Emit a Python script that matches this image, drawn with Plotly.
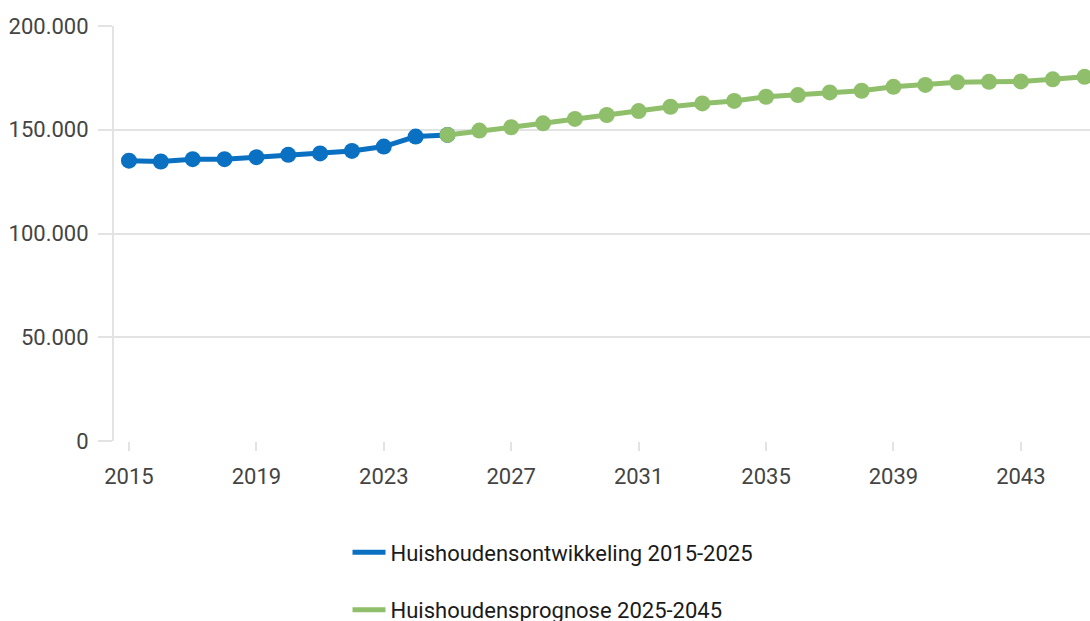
import plotly.graph_objects as go

years_hist = list(range(2015, 2026))
hist_values = [135100, 134700, 135800, 135800, 136800, 137900, 138600, 139800, 141900, 146700, 147500]

years_prog = list(range(2025, 2046))
prog_values = [147500, 149600, 151200, 153100, 155200, 157100, 159000, 161100, 162700, 163900,
               165900, 166700, 168000, 168800, 170700, 171600, 172900, 173100, 173300, 174300, 175500]

name_hist = "Huishoudensontwikkeling 2015-2025"
name_prog = "Huishoudensprognose 2025-2045"
x_ticks = list(range(2015, 2044, 4))
y_ticks = [0, 50000, 100000, 150000, 200000]

blue = "#0a70c2"
green = "#90bf6b"
grid = "#e3e3e3"

fig = go.Figure()
fig.add_trace(go.Scatter(x=years_hist, y=hist_values, mode="lines+markers",
                         line=dict(color=blue, width=5), marker=dict(color=blue, size=16),
                         showlegend=False, hoverinfo="x+y"))
fig.add_trace(go.Scatter(x=years_prog, y=prog_values, mode="lines+markers",
                         line=dict(color=green, width=5), marker=dict(color=green, size=16),
                         showlegend=False, hoverinfo="x+y"))
# legend entries (line only)
fig.add_trace(go.Scatter(x=[None], y=[None], mode="lines", name=name_hist,
                         line=dict(color=blue, width=5), legendgroup="a"))
fig.add_trace(go.Scatter(x=[None], y=[None], mode="lines", name=name_prog,
                         line=dict(color=green, width=5), legendgroup="b"))

fig.update_layout(
    width=1090, height=621,
    margin=dict(l=114, r=0, t=26, b=180, autoexpand=False),
    paper_bgcolor="white", plot_bgcolor="white",
    font=dict(family="Roboto", size=22, color="#444444"),
    separators=",.",
    legend=dict(orientation="v", x=0.4498, xanchor="center", y=-0.218, yanchor="top",
                font=dict(family="Roboto", size=22, color="#1a1a1a"),
                tracegroupgap=26, itemwidth=33),
    hovermode="closest",
)
fig.update_xaxes(range=[2014.53, 2045.17], tickvals=x_ticks, showgrid=False,
                 ticks="outside", ticklen=9, tickcolor=grid, tickwidth=2,
                 zeroline=False, showline=False, ticklabelstandoff=7,
                 tickfont=dict(size=22, color="#444444"))
fig.update_yaxes(range=[0, 200000], tickvals=y_ticks, tickformat=",.0f",
                 showgrid=True, gridcolor=grid, gridwidth=2,
                 ticks="outside", ticklen=14, tickcolor=grid, tickwidth=2,
                 showline=True, linecolor=grid, linewidth=2, zeroline=False,
                 ticklabelstandoff=5, tickfont=dict(size=22, color="#444444"))

fig.write_html("out.html", config={"displayModeBar": False})

with open("out.html", "r", encoding="utf-8") as f:
    html = f.read()
html = html.replace("<head>", "<head><style>html,body{margin:0;padding:0;overflow:hidden;}</style>", 1)
with open("out.html", "w", encoding="utf-8") as f:
    f.write(html)
